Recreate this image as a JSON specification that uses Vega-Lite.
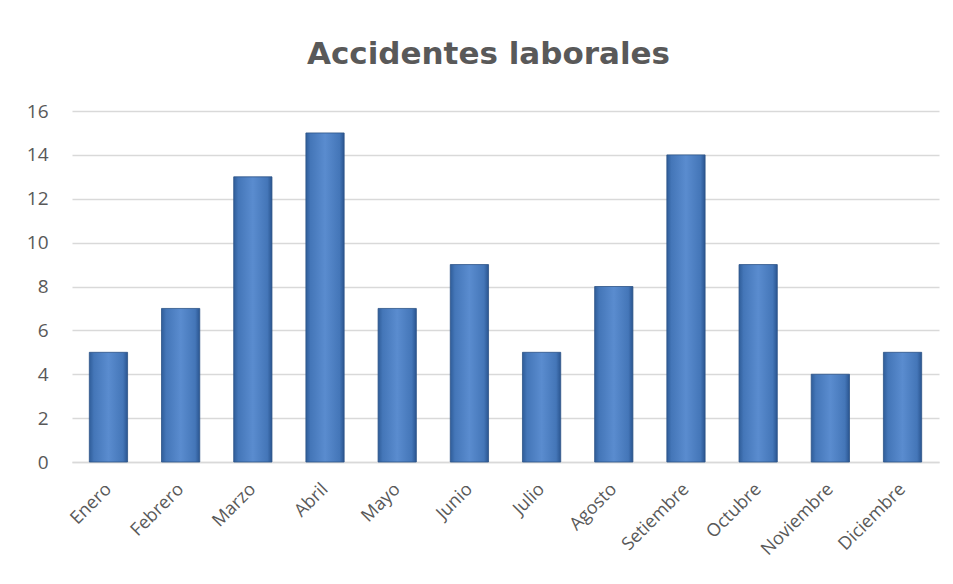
{
  "$schema": "https://vega.github.io/schema/vega-lite/v6.json",
  "autosize": "none",
  "width": 867,
  "height": 351,
  "padding": {"left": 72, "top": 111, "right": 14, "bottom": 122},
  "background": "white",
  "title": {
    "text": "Accidentes laborales",
    "font": "DejaVu Sans",
    "fontSize": 31,
    "fontWeight": "bold",
    "color": "#595959",
    "anchor": "middle",
    "dx": -17,
    "baseline": "alphabetic",
    "offset": 7
  },
  "data": {
    "values": [
      {"mes": "Enero", "accidentes": 5},
      {"mes": "Febrero", "accidentes": 7},
      {"mes": "Marzo", "accidentes": 13},
      {"mes": "Abril", "accidentes": 15},
      {"mes": "Mayo", "accidentes": 7},
      {"mes": "Junio", "accidentes": 9},
      {"mes": "Julio", "accidentes": 5},
      {"mes": "Agosto", "accidentes": 8},
      {"mes": "Setiembre", "accidentes": 14},
      {"mes": "Octubre", "accidentes": 9},
      {"mes": "Noviembre", "accidentes": 4},
      {"mes": "Diciembre", "accidentes": 5}
    ]
  },
  "mark": {
    "type": "bar",
    "color": {
      "gradient": "linear",
      "x1": 0, "x2": 1, "y1": 0, "y2": 0,
      "stops": [
        {"offset": 0, "color": "#2f5d99"},
        {"offset": 0.12, "color": "#4476b8"},
        {"offset": 0.5, "color": "#5a8ccf"},
        {"offset": 0.88, "color": "#4476b8"},
        {"offset": 1, "color": "#2a5590"}
      ]
    },
    "stroke": "#2c5386",
    "strokeWidth": 0.8
  },
  "encoding": {
    "x": {
      "field": "mes",
      "type": "nominal",
      "sort": null,
      "scale": {"paddingInner": 0.47, "paddingOuter": 0.24},
      "axis": {
        "title": null,
        "labelAngle": -45,
        "labelFont": "Open Sans",
        "labelFontSize": 18,
        "labelColor": "#595959",
        "labelPadding": 18,
        "labelOffset": -6,
        "ticks": false,
        "domainColor": "#d9d9d9",
        "domainWidth": 1.5
      }
    },
    "y": {
      "field": "accidentes",
      "type": "quantitative",
      "scale": {"domain": [0, 16]},
      "axis": {
        "title": null,
        "values": [0, 2, 4, 6, 8, 10, 12, 14, 16],
        "labelFont": "Open Sans",
        "labelFontSize": 19,
        "labelColor": "#595959",
        "labelPadding": 24,
        "ticks": false,
        "domain": false,
        "gridColor": "#d9d9d9",
        "gridWidth": 1.3
      }
    }
  },
  "config": {"view": {"stroke": null}}
}
